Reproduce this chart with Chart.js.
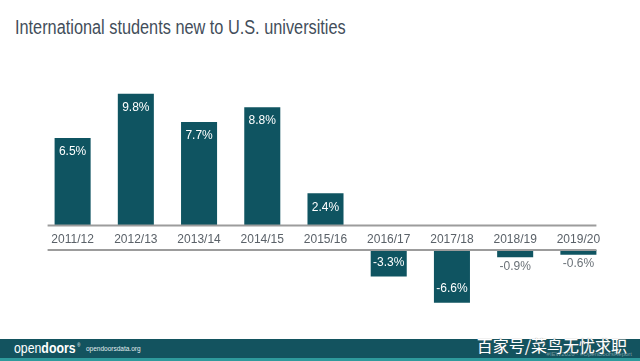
<!DOCTYPE html>
<html>
<head>
<meta charset="utf-8">
<script src="https://cdn.jsdelivr.net/npm/chart.js@4.4.0/dist/chart.umd.min.js"></script>
<style>
  html, body { margin: 0; padding: 0; background: #fff; }
  body { width: 640px; height: 361px; position: relative; overflow: hidden; font-family: "Liberation Sans", Arial, sans-serif; }
  #title { position: absolute; left: 15px; top: 16px; font-size: 20px; color: #434e5a; white-space: nowrap;
           transform: scaleX(0.815); transform-origin: 0 0; }
  #top { position: absolute; left: 41px; top: 88px; }
  #bottom { position: absolute; left: 41px; top: 246px; }
  #footer { position: absolute; left: 0; top: 339px; width: 640px; height: 19px; background: #13535f; }
  #strip { position: absolute; left: 0; top: 358px; width: 640px; height: 3px; background: #2e9a9c; }
  #logo { position: absolute; left: 14px; top: 338px; height: 20px; color: #fff; font-size: 15px; line-height: 20px;
          white-space: nowrap; transform: scaleX(0.82); transform-origin: 0 0; }
  #logo b { font-weight: bold; }
  #logo span { position: relative; top: -6px; font-size: 5px; margin-left: 2px; }
  #url { position: absolute; left: 86px; top: 344px; color: #e4eef0; font-size: 6.5px; line-height: 9px; }
  #wm { position: absolute; right: 13px; top: 333px; color: #fff; font-size: 16px;
        font-family: "Noto Sans CJK SC", sans-serif; text-shadow: 0 0 1px #666; }
  #wm2 { position: absolute; right: 8px; top: 351px; color: rgba(255,255,255,0.4); font-size: 6px; }
</style>
</head>
<body>
<div id="title">International students new to U.S. universities</div>
<canvas id="top" width="569" height="166"></canvas>
<canvas id="bottom" width="569" height="62"></canvas>
<div id="footer"></div>
<div id="strip"></div>
<div id="logo">open<b>doors</b><span>®</span></div>
<div id="url">opendoorsdata.org</div>
<div id="wm">百家号/菜鸟无忧求职</div>
<div id="wm2">#IEW2020 · #OpenDoorsReport</div>
<script>
const years = ["2011/12", "2012/13", "2013/14", "2014/15", "2015/16", "2016/17", "2017/18", "2018/19", "2019/20"];
const change = [6.5, 9.8, 7.7, 8.8, 2.4, -3.3, -6.6, -0.9, -0.6];

const barColor = "#0f5461";
const lineColor = "#9c9c9c";

// baseline line + value labels
const slidePlugin = {
  id: "slide",
  afterDatasetsDraw(chart) {
    const ctx = chart.ctx;
    const meta = chart.getDatasetMeta(0);
    const y0 = chart.scales.y.getPixelForValue(0);
    const bars = meta.data;
    const first = bars[0], last = bars[bars.length - 1];
    ctx.save();
    ctx.strokeStyle = lineColor;
    ctx.lineWidth = 2;
    ctx.beginPath();
    ctx.moveTo(first.x - first.width / 2 - 7, y0);
    ctx.lineTo(last.x + last.width / 2, y0);
    ctx.stroke();

    ctx.font = "12px 'Liberation Sans', Arial, sans-serif";
    ctx.textAlign = "center";
    ctx.textBaseline = "middle";
    bars.forEach((bar, i) => {
      const v = chart.data.datasets[0].data[i];
      if (v == null) return;
      const txt = v.toFixed(1) + "%";
      if (v > 0) {
        ctx.fillStyle = "#fff";
        ctx.fillText(txt, bar.x, bar.y + 14);
      } else {
        const h = bar.y - y0;
        if (h > 20) {
          ctx.fillStyle = "#fff";
          ctx.fillText(txt, bar.x, bar.y - 14);
        } else {
          ctx.fillStyle = "#6b7278";
          ctx.fillText(txt, bar.x, bar.y + 9);
        }
      }
    });
    ctx.restore();
  }
};

function barChart(id, data, min, max, showLabels, padding) {
  return new Chart(document.getElementById(id), {
    type: "bar",
    data: {
      labels: years,
      datasets: [{
        data: data,
        backgroundColor: barColor,
        barPercentage: 0.57,
        categoryPercentage: 1.0
      }]
    },
    options: {
      responsive: false,
      animation: false,
      layout: { padding: padding },
      plugins: { legend: { display: false }, tooltip: { enabled: false } },
      scales: {
        x: {
          display: showLabels,
          grid: { display: false, drawTicks: false },
          border: { display: false },
          ticks: { color: "#5a6168", padding: 7, font: { size: 12, family: "'Liberation Sans', Arial, sans-serif" } }
        },
        y: { display: false, min: min, max: max }
      }
    },
    plugins: [slidePlugin]
  });
}

barChart("top", change.map(v => v > 0 ? v : null), 0, 10, true, { top: 3, bottom: 0 });
barChart("bottom", change.map(v => v < 0 ? v : null), -7, 0, false, { top: 4, bottom: 2 });
</script>
</body>
</html>
